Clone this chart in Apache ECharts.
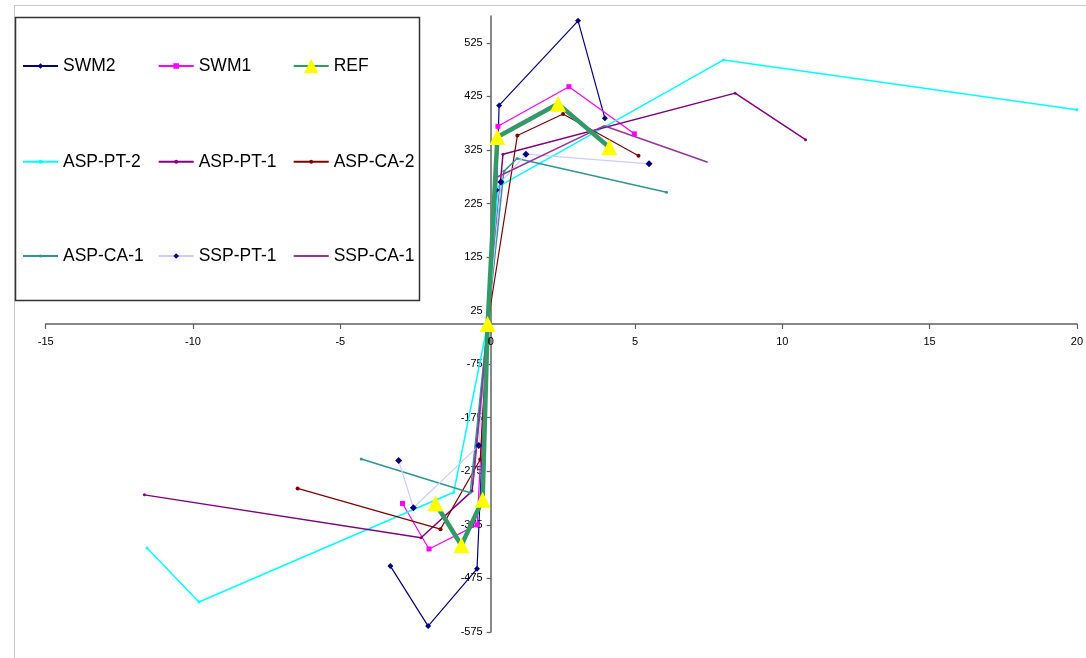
<!DOCTYPE html>
<html><head><meta charset="utf-8">
<script src="https://cdn.jsdelivr.net/npm/echarts@6/dist/echarts.min.js"></script>
<style>html,body{margin:0;padding:0;background:#fff}#c{width:1086px;height:658px}</style>
</head><body><div id="c"></div>
<script>
// ---- data ----
const seriesNames = ['SWM2', 'SWM1', 'REF', 'ASP-PT-2', 'ASP-PT-1', 'ASP-CA-2', 'ASP-CA-1', 'SSP-PT-1', 'SSP-CA-1'];

const swm2X = [-3.30, -2.02, -0.36, 0, 0.30, 0.39, 3.07, 3.98];
const swm2Y = [-452, -564, -457, 0, 250, 408, 566, 384];

const swm1X = [-2.89, -1.99, -0.36, 0, 0.35, 2.76, 4.98];
const swm1Y = [-335, -420, -375, 0, 369, 443, 355];

const refX = [-1.77, -0.89, -0.17, 0, 0.33, 2.39, 4.13];
const refY = [-335, -413, -328, 0, 349, 411, 330];

const aspPt2X = [-11.56, -9.80, -1.15, 0, 0.35, 8.01, 20];
const aspPt2Y = [-418, -519, -314, 0, 256, 493, 400];

const aspPt1X = [-11.65, -2.26, -0.53, 0, 0.52, 8.40, 10.79];
const aspPt1Y = [-319, -399, -312, 0, 317, 431, 344];

const aspCa2X = [-6.45, -1.60, -0.25, 0, 1.01, 2.56, 5.12];
const aspCa2Y = [-307, -383, -253, 0, 352, 392, 314];

const aspCa1X = [-4.29, -0.59, 0, 0.55, 1.00, 6.07];
const aspCa1Y = [-252, -315, 0, 285, 309, 246];

const sspPt1X = [-3.02, -2.52, -0.30, 0, 0.45, 1.30, 5.48];
const sspPt1Y = [-255, -343, -227, 0, 265, 317, 299];

const sspCa1X = [-0.50, -0.20, 0, 0.31, 3.95, 7.47];
const sspCa1Y = [-300, -130, 0, 274, 370, 302];

const xTickValues = [-15, -10, -5, 0, 5, 10, 15, 20];
const yTickValues = [-575, -475, -375, -275, -175, -75, 25, 125, 225, 325, 425, 525];

// ---- styles ----
const styles = {
  'SWM2':     {line: '#000080', mark: '#000080', symbol: 'diamond', size: 6, width: 1.2, lh: 7},
  'SWM1':     {line: '#FF00FF', mark: '#FF00FF', symbol: 'rect', size: 5, width: 1.2, lh: 7},
  'REF':      {line: '#339966', mark: '#FFFF00', symbol: 'triangle', size: 16, width: 4.5, lh: 18},
  'ASP-PT-2': {line: '#00FFFF', mark: '#00FFFF', symbol: 'circle', size: 3, width: 1.5, lh: 5},
  'ASP-PT-1': {line: '#800080', mark: '#800080', symbol: 'circle', size: 3, width: 1.5, lh: 5},
  'ASP-CA-2': {line: '#800000', mark: '#800000', symbol: 'circle', size: 4, width: 1.2, lh: 5},
  'ASP-CA-1': {line: '#2E9696', mark: '#2E9696', symbol: 'circle', size: 3, width: 1.5, lh: 4},
  'SSP-PT-1': {line: '#CCCCFF', mark: '#000080', symbol: 'diamond', size: 7, width: 1.2, lh: 7},
  'SSP-CA-1': {line: '#993399', mark: '#993399', symbol: 'none', size: 0, width: 1.5, lh: 1}
};
const xs = [swm2X, swm1X, refX, aspPt2X, aspPt1X, aspCa2X, aspCa1X, sspPt1X, sspCa1X];
const ys = [swm2Y, swm1Y, refY, aspPt2Y, aspPt1Y, aspCa2Y, aspCa1Y, sspPt1Y, sspCa1Y];

const FONT = 'Liberation Sans';
const series = seriesNames.map((n, i) => {
  const s = styles[n];
  return {
    name: n, type: 'line',
    data: xs[i].map((x, k) => [x, ys[i][k]]),
    symbol: s.symbol, symbolSize: s.size, showSymbol: s.symbol !== 'none',
    lineStyle: {color: s.line, width: s.width},
    itemStyle: {color: s.mark, borderWidth: 0},
    z: n === 'REF' ? 3 : 2,
    animation: false
  };
});

// legends: 3x3 grid
const colX = [22, 157.7, 292.7];
const rowY = [65, 160.7, 255];
const legends = seriesNames.map((n, i) => {
  const s = styles[n];
  const r = Math.floor(i / 3), c = i % 3;
  return {
    data: [n], left: colX[c], top: rowY[r] - 8,
    itemWidth: 35, itemHeight: s.lh, itemGap: 0,
    textStyle: {fontFamily: FONT, fontSize: 17.5, color: '#000', padding: [0, 0, 0, 0]},
    selectedMode: false, padding: 0
  };
});

// grid geometry (pixels)
const G = {left: 45.7, right: 2, top: 16, bottom: 26};
const plotW = 1086 - G.left - G.right, plotH = 658 - G.top - G.bottom;
const zeroXpx = G.left + plotW * (0 - (-15)) / 35;     // x=0 position
const zeroYpx = G.top + plotH * (575 - 0) / 1150;      // y=0 position

const frame = [
  {type: 'line', shape: {x1: 14, y1: 5.5, x2: 1086, y2: 5.5}, style: {stroke: '#c8c8c8', lineWidth: 1}, z: 0},
  {type: 'line', shape: {x1: 14.5, y1: 5, x2: 14.5, y2: 658}, style: {stroke: '#c8c8c8', lineWidth: 1}, z: 0},
  {type: 'rect', shape: {x: 15.5, y: 17.5, width: 404, height: 283}, style: {fill: '#fff', stroke: '#333', lineWidth: 1.5}, z: 1}
];

const chart = echarts.init(document.getElementById('c'), null, {renderer: 'canvas'});
chart.setOption({
  backgroundColor: '#fff',
  animation: false,
  grid: Object.assign({containLabel: false}, G),
  xAxis: {
    type: 'value', min: -15, max: 20, interval: 5, position: 'bottom',
    offset: -((658 - G.bottom) - zeroYpx),
    axisLine: {show: true, onZero: false, lineStyle: {color: '#606060', width: 1.5}},
    axisTick: {show: true, length: 5, lineStyle: {color: '#606060', width: 1.2}},
    axisLabel: {fontFamily: FONT, fontSize: 11, color: '#000', margin: 12, customValues: xTickValues},
    splitLine: {show: false}
  },
  yAxis: {
    type: 'value', min: -575, max: 575, position: 'left',
    offset: -(zeroXpx - G.left),
    axisLine: {show: true, onZero: false, lineStyle: {color: '#606060', width: 1.5}},
    axisTick: {show: true, length: 4, customValues: yTickValues, lineStyle: {color: '#606060', width: 1.2}},
    axisLabel: {fontFamily: FONT, fontSize: 11, color: '#000', margin: 8, customValues: yTickValues},
    splitLine: {show: false}
  },
  legend: legends,
  graphic: {elements: frame.concat([
    {type: 'text', id: 'zeroLabel', left: zeroXpx - 3, top: zeroYpx + 12, z: 20, zlevel: 0,
     style: {text: '0', fontSize: 11, fontFamily: FONT, fill: '#000'}}
  ])},
  series: series
});
</script>
</body></html>
